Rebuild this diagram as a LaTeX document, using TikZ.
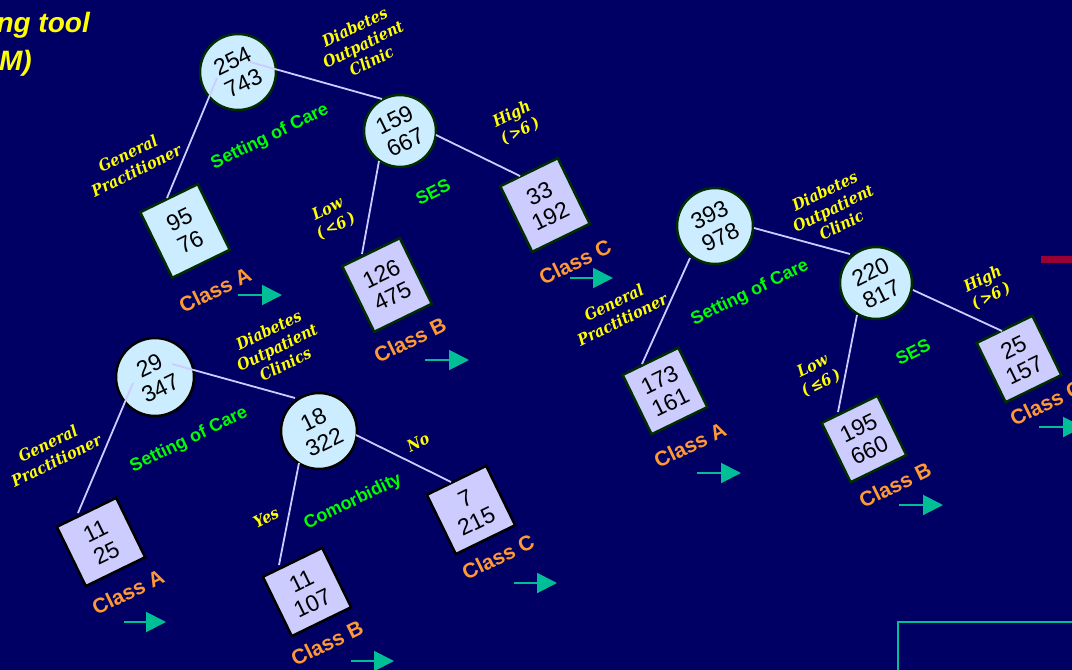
\documentclass[tikz,border=0pt]{standalone}
\usepackage{fontspec}
\setmainfont{Liberation Sans}
\newfontfamily\lblserif{DejaVu Serif Condensed}
\usetikzlibrary{arrows.meta,calc}
\definecolor{bg}{RGB}{0,0,100}
\definecolor{ylw}{RGB}{255,255,0}
\definecolor{grn}{RGB}{0,255,0}
\definecolor{org}{RGB}{255,153,51}
\definecolor{teal2}{RGB}{0,190,150}
\definecolor{cyanfill}{RGB}{204,236,255}
\definecolor{lavfill}{RGB}{204,204,255}
\definecolor{dgreen}{RGB}{0,45,0}
\definecolor{crim}{RGB}{153,0,51}
\tikzset{
 numtxt/.style={font=\fontsize{23}{25}\selectfont, text=black, align=center},
 splitc/.style={circle, draw=dgreen, line width=2.5pt, fill=cyanfill, minimum size=76pt, inner sep=0pt, rotate=26, numtxt},
 splitk/.style={splitc, draw=black},
 leafbox/.style={rectangle, draw=dgreen, line width=2.5pt, fill=lavfill, minimum width=64pt, minimum height=73pt, inner sep=0pt, rotate=26, numtxt},
 leafk/.style={leafbox, draw=black, minimum width=66pt, minimum height=66pt},
 branch/.style={draw=lavfill, line width=1.8pt},
 cond/.style={text=ylw, font=\lblserif\bfseries\itshape\fontsize{16}{19}\selectfont, align=center, rotate=26},
 attr/.style={text=grn, font=\bfseries\fontsize{18}{21}\selectfont, rotate=26},
 cls/.style={text=org, font=\bfseries\fontsize{21}{24}\selectfont, rotate=26},
 go/.style={draw=teal2, fill=teal2, line width=2pt, -{Triangle[length=20pt,width=20pt]}},
 ttl/.style={text=ylw, font=\bfseries\itshape\fontsize{28}{34}\selectfont, inner sep=0pt},
}
\begin{document}
\begin{tikzpicture}[x=1pt,y=-1pt]
\fill[bg] (0,0) rectangle (1072,670);
\useasboundingbox (0,0) rectangle (1072,670);
\clip (0,0) rectangle (1072,670);

% title fragments
\node[ttl, anchor=base east] (t1) at (90,32) {ng tool};
\node[ttl, anchor=base east] (t2) at (32,70) {M)};

% decorations at the right
\fill[crim] (1041,256) rectangle (1074,263);
\draw[teal2, line width=2pt] (898,674) -- (898,622) -- (1076,622);

% ---------- tree 1 ----------
\node[splitc] (c1) at (238,72) {254\\743};
\node[splitc, minimum size=72pt] (c2) at (400,131) {159\\667};
\node[leafbox, fill=cyanfill] (b1A) at (185,231) {95\\76};
\node[leafbox] (b1B) at (387,285) {126\\475};
\node[leafbox] (b1C) at (545,205) {33\\192};
\draw[branch] ($(c1)+(-21,6)$) -- ($(b1A)+(-18,-33)$);
\draw[branch] ($(c1)+(12,-10)$) -- ($(c2)+(-18,-32)$);
\draw[branch] ($(c2)+(-21,30)$) -- ($(b1B)+(-25,-31)$);
\draw[branch] ($(c2)+(36,4)$) -- ($(b1C)+(-25,-29)$);
\node[cond] (l1a) at (363,44) {Diabetes\\Outpatient\\Clinic};
\node[cond] (l1b) at (132,162) {General\\Practitioner};
\node[attr] (l1c) at (270,137) {Setting of Care};
\node[cond] (l1d) at (332,218) {Low\\(\,<6\,)};
\node[attr] (l1e) at (433,192) {SES};
\node[cond] (l1f) at (516,123) {High\\(\,>6\,)};
\node[cls] (k1A) at (215,290) {Class A};
\node[cls] (k1B) at (410,340) {Class B};
\node[cls] (k1C) at (575,262) {Class C};
\coordinate (a1As) at (238,295); \coordinate (a1Ae) at (282,295);
\coordinate (a1Bs) at (425,360); \coordinate (a1Be) at (469,360);
\coordinate (a1Cs) at (570,278); \coordinate (a1Ce) at (613,278);
\draw[go] (a1As) -- (a1Ae);
\draw[go] (a1Bs) -- (a1Be);
\draw[go] (a1Cs) -- (a1Ce);

% ---------- tree 2 ----------
\node[splitc] (c3) at (715,226) {393\\978};
\node[splitc, minimum size=72pt] (c4) at (876,283) {220\\817};
\node[leafbox, minimum width=62pt, minimum height=66pt] (b2A) at (665,391) {173\\161};
\node[leafbox, minimum width=62pt, minimum height=66pt] (b2B) at (864,439) {195\\660};
\node[leafbox, minimum width=62pt, minimum height=66pt] (b2C) at (1019,359) {25\\157};
\draw[branch] ($(c3)+(-25,32)$) -- ($(b2A)+(-23,-27)$);
\draw[branch] ($(c3)+(39,2)$) -- ($(c4)+(-26,-29)$);
\draw[branch] ($(c4)+(-19,32)$) -- ($(b2B)+(-26,-27)$);
\draw[branch] ($(c4)+(37,7)$) -- ($(b2C)+(-17,-28)$);
\node[cond] (l2a) at (833,208) {Diabetes\\Outpatient\\Clinic};
\node[cond] (l2b) at (618,311) {General\\Practitioner};
\node[attr] (l2c) at (750,293) {Setting of Care};
\node[cond] (l2d) at (817,375) {Low\\(\,≤6\,)};
\node[attr] (l2e) at (913,352) {SES};
\node[cond] (l2f) at (987,288) {High\\(\,>6\,)};
\node[cls] (k2A) at (690,445) {Class A};
\node[cls] (k2B) at (895,485) {Class B};
\node[cls] (k2C) at (1046,403) {Class C};
\coordinate (a2As) at (697,473); \coordinate (a2Ae) at (741,473);
\coordinate (a2Bs) at (899,505); \coordinate (a2Be) at (943,505);
\coordinate (a2Cs) at (1039,427); \coordinate (a2Ce) at (1083,427);
\draw[go] (a2As) -- (a2Ae);
\draw[go] (a2Bs) -- (a2Be);
\draw[go] (a2Cs) -- (a2Ce);

% ---------- tree 3 ----------
\node[splitk, minimum size=78pt] (c5) at (155,377) {29\\347};
\node[splitk] (c6) at (319,431) {18\\322};
\node[leafk] (b3A) at (101,542) {11\\25};
\node[leafk] (b3B) at (307,592) {11\\107};
\node[leafk] (b3C) at (471,510) {7\\215};
\draw[branch] ($(c5)+(-22,6)$) -- ($(b3A)+(-23,-29)$);
\draw[branch] ($(c5)+(17,-13)$) -- ($(c6)+(-24,-33)$);
\draw[branch] ($(c6)+(-20,32)$) -- ($(b3B)+(-28,-27)$);
\draw[branch] ($(c6)+(37,4)$) -- ($(b3C)+(-20,-28)$);
\node[cond] (l3a) at (277,347) {Diabetes\\Outpatient\\Clinics};
\node[cond] (l3b) at (52,452) {General\\Practitioner};
\node[attr] (l3c) at (189,440) {Setting of Care};
\node[cond] (l3d) at (266,518) {Yes};
\node[attr] (l3e) at (353,502) {Comorbidity};
\node[cond] (l3f) at (418,442) {No};
\node[cls] (k3A) at (128,592) {Class A};
\node[cls] (k3B) at (327,643) {Class B};
\node[cls] (k3C) at (498,557) {Class C};
\coordinate (a3As) at (124,622); \coordinate (a3Ae) at (166,622);
\coordinate (a3Bs) at (351,661); \coordinate (a3Be) at (394,661);
\coordinate (a3Cs) at (514,583); \coordinate (a3Ce) at (557,583);
\draw[go] (a3As) -- (a3Ae);
\draw[go] (a3Bs) -- (a3Be);
\draw[go] (a3Cs) -- (a3Ce);
\end{tikzpicture}
\end{document}
